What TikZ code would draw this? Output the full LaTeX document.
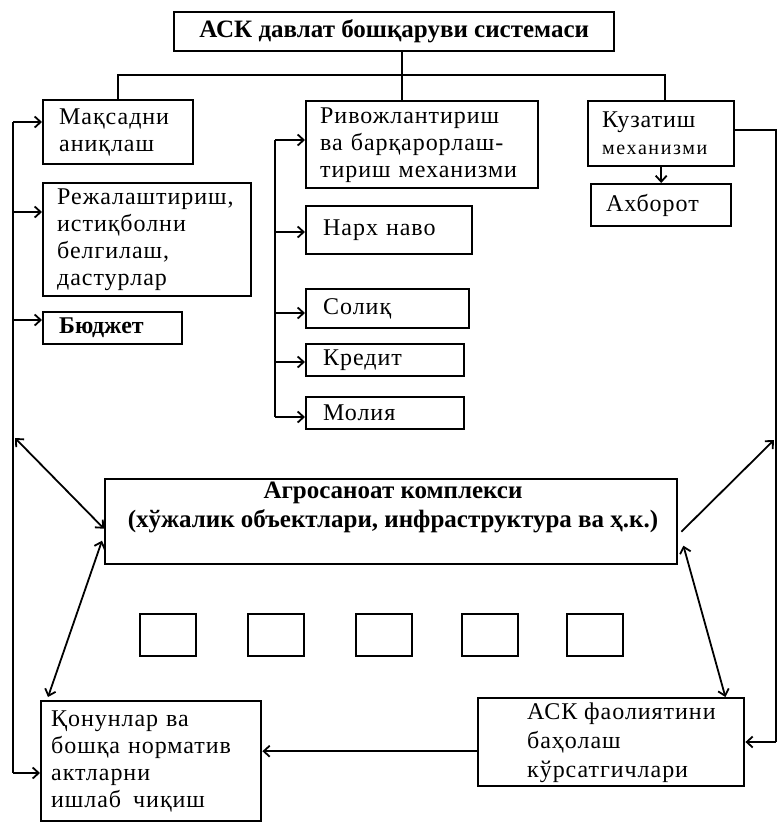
\documentclass[tikz,border=0pt]{standalone}
\usepackage{fontspec}
\setmainfont{Liberation Serif}
\usetikzlibrary{arrows.meta,calc}
\begin{document}
\begin{tikzpicture}[x=1pt,y=-1pt,
  box/.style={draw, line width=2.4pt, inner ysep=0pt, anchor=north west, align=left, font=\fontsize{24}{27}\selectfont\addfontfeature{LetterSpace=4}},
  sq/.style={draw, line width=2.2pt, anchor=north west, minimum width=56pt, minimum height=42pt, inner sep=0pt},
  conn/.style={line width=1.8pt},
  tip/.tip={Straight Barb[length=6pt,width=11pt]},
  arr/.style={conn, -tip},
  darr/.style={conn, tip-tip},
]
\useasboundingbox (0,0) rectangle (778,823);

% top box
\node[draw, line width=2.4pt, anchor=north west, minimum width=440pt, minimum height=39pt, inner sep=0pt,
  font=\fontsize{25}{28}\bfseries\selectfont] (top) at (173,11) {АСК давлат бошқаруви системаси};

% left column
\node[box, minimum width=150pt, minimum height=64pt, inner xsep=16pt, text width=118pt] (maq) at (42,99) {Мақсадни\\аниқлаш};
\node[box, minimum width=208pt, minimum height=113pt, inner xsep=14pt, text width=180pt] (rej) at (42,182) {Режалаштириш,\\истиқболни\\белгилаш,\\дастурлар};
\node[box, minimum width=139pt, minimum height=32pt, inner xsep=16pt, text width=107pt, font=\fontsize{24}{27}\bfseries\selectfont] (bud) at (42,311) {Бюджет};

% middle column
\node[box, minimum width=232pt, minimum height=87pt, inner xsep=14pt, text width=204pt] (riv) at (305,100) {Ривожлантириш\\ва барқарорлаш-\\тириш механизми};
\node[box, minimum width=166pt, minimum height=48pt, inner xsep=17pt, text width=132pt] (narx) at (305,205) {Нарх наво};
\node[box, minimum width=163pt, minimum height=39pt, inner xsep=17pt, text width=129pt] (sol) at (305,288) {Солиқ};
\node[box, minimum width=158pt, minimum height=32pt, inner xsep=17pt, text width=124pt] (kred) at (305,343) {Кредит};
\node[box, minimum width=158pt, minimum height=32pt, inner xsep=17pt, text width=124pt] (mol) at (305,396) {Молия};

% right column
\node[box, minimum width=146pt, minimum height=65pt, inner xsep=14pt, text width=118pt] (kuz) at (587,100) {Кузатиш\\{\fontsize{20}{27}\selectfont\addfontfeature{LetterSpace=8}механизми}};
\node[box, minimum width=140pt, minimum height=42pt, inner xsep=15pt, text width=110pt] (axb) at (590,183) {Ахборот};

% agro complex
\node[draw, line width=2.4pt, anchor=north west, minimum width=572pt, minimum height=85pt, inner sep=0pt] (agro) at (104,478) {};
\node[align=center, font=\fontsize{25}{29}\bfseries\selectfont] (agrot) at (393,507) {Агросаноат комплекси\\(хўжалик объектлари, инфраструктура ва ҳ.к.)};

% small boxes
\node[sq] (s1) at (139,613) {};
\node[sq] (s2) at (247,613) {};
\node[sq] (s3) at (355,613) {};
\node[sq] (s4) at (461,613) {};
\node[sq] (s5) at (566,613) {};

% bottom boxes
\node[box, minimum width=220pt, minimum height=120pt, inner xsep=10pt, text width=200pt] (qon) at (40,700) {Қонунлар ва\\бошқа норматив\\актларни\\ишлаб\enspace чиқиш};
\node[draw, line width=2.4pt, anchor=north west, minimum width=266pt, minimum height=88pt, inner sep=0pt] (ask) at (477,697) {};
\node[anchor=west, align=left, inner sep=0pt, font=\fontsize{24}{29}\selectfont\addfontfeature{LetterSpace=4}] (askt) at (527,743) {АСК фаолиятини\\баҳолаш\\кўрсатгичлари};

% top branching
\coordinate (tj) at (402,75);
\coordinate (bL) at (118,75);
\coordinate (bR) at (665,75);
\draw[conn] (top.south -| tj) -- (riv.north -| tj);
\draw[conn] (bL |- maq.north) -- (bL) -- (bR) -- (bR |- kuz.north);

% left feedback line
\coordinate (lt) at (13,122);
\coordinate (l2) at (13,212);
\coordinate (l3) at (13,320);
\coordinate (lb) at (13,773);
\draw[conn] (lt) -- (lb);
\draw[arr] (lt) -- (lt -| maq.west);
\draw[arr] (l2) -- (l2 -| rej.west);
\draw[arr] (l3) -- (l3 -| bud.west);
\draw[arr] (lb) -- (lb -| qon.west);

% middle line
\coordinate (mt) at (275,140);
\coordinate (m2) at (275,232);
\coordinate (m3) at (275,313);
\coordinate (m4) at (275,362);
\coordinate (mb) at (275,417);
\draw[conn] (mt) -- (mb);
\draw[arr] (mt) -- (mt -| riv.west);
\draw[arr] (m2) -- (m2 -| narx.west);
\draw[arr] (m3) -- (m3 -| sol.west);
\draw[arr] (m4) -- (m4 -| kred.west);
\draw[arr] (mb) -- (mb -| mol.west);

% kuzatish
\draw[arr] (kuz.south) -- (axb.north);
\coordinate (rt) at (776,130);
\coordinate (rb) at (776,742);
\draw[conn] (rt -| kuz.east) -- (rt) -- (rb);
\draw[arr] (rb) -- (rb -| ask.east);

% diagonals
\coordinate (ld) at (15,438);
\coordinate (rd) at (774,440);
\draw[darr] (ld) -- ($(agro.west)+(0,7)$);
\draw[darr] ($(agro.west)+(-2,19)$) -- ($(qon.north west)+(8,-3)$);
\draw[arr] ($(agro.east)+(3,10)$) -- (rd);
\draw[darr] ($(agro.east)+(5,24)$) -- ($(ask.north east)+(-20,0)$);

% ask -> qonunlar
\coordinate (aw) at ($(ask.west)+(0,9)$);
\draw[arr] (aw) -- (aw -| qon.east);
\end{tikzpicture}
\end{document}
